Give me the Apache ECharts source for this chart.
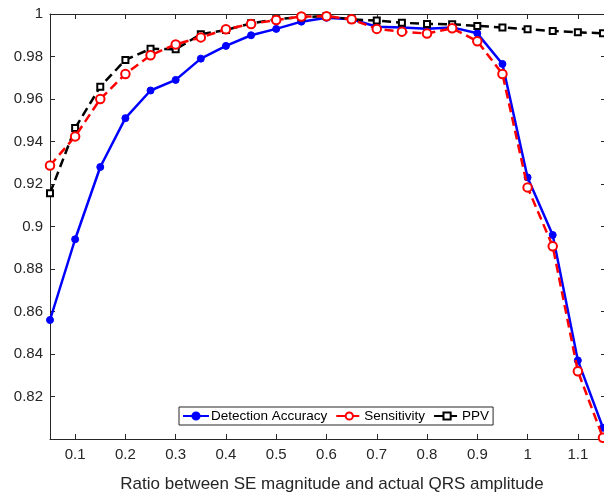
<!DOCTYPE html>
<html>
<head>
<meta charset="utf-8">
<script src="https://cdn.jsdelivr.net/npm/echarts@6/dist/echarts.min.js"></script>
<style>
  html, body { margin: 0; padding: 0; background: #fff; overflow: hidden; }
  #chart { width: 604px; height: 497px; }
</style>
</head>
<body>
<div id="chart"></div>
<script>
// SE magnitude ratio (x) and detection metrics
const ratio = [0.05, 0.1, 0.15, 0.2, 0.25, 0.3, 0.35, 0.4, 0.45, 0.5, 0.55, 0.6,
               0.65, 0.7, 0.75, 0.8, 0.85, 0.9, 0.95, 1.0, 1.05, 1.1, 1.15];

const accuracy = [0.856, 0.894, 0.928, 0.951, 0.964, 0.969, 0.979, 0.985, 0.990, 0.993, 0.9964, 0.9982,
                  0.9975, 0.994, 0.9937, 0.9931, 0.9937, 0.9909, 0.9765, 0.9231, 0.896, 0.837, 0.8053];

const sensitivity = [0.9287, 0.9424, 0.960, 0.9718, 0.9806, 0.9857, 0.989, 0.9928, 0.9953, 0.9972, 0.9988, 0.9990,
                     0.9975, 0.993, 0.9917, 0.9908, 0.9933, 0.9872, 0.9718, 0.9184, 0.8907, 0.8319, 0.8006];

const ppv = [0.9157, 0.9463, 0.9658, 0.9784, 0.9836, 0.9834, 0.9905, 0.9925, 0.9956, 0.9975, 0.9985, 0.9990,
             0.9975, 0.9969, 0.9959, 0.9953, 0.9952, 0.9944, 0.9937, 0.9928, 0.992, 0.9914, 0.9909];

const xTicks = [0.1, 0.2, 0.3, 0.4, 0.5, 0.6, 0.7, 0.8, 0.9, 1.0, 1.1];

const xLabel = 'Ratio between SE magnitude and actual QRS amplitude';
const names = ['Detection Accuracy', 'Sensitivity', 'PPV'];

const FONT = '"Liberation Sans", Arial, Helvetica, sans-serif';
const AXIS_COLOR = '#262626';

const pairs = ys => ratio.map((x, i) => [x, ys[i]]);

const chart = echarts.init(document.getElementById('chart'), null, { renderer: 'canvas' });

const xBase = {
  type: 'value',
  min: 0.05,
  max: 1.156,
  axisLine: { show: true, onZero: false, lineStyle: { color: AXIS_COLOR, width: 1 } },
  axisTick: { show: true, inside: true, length: 5, customValues: xTicks, lineStyle: { color: AXIS_COLOR } },
  splitLine: { show: false }
};

const yBase = {
  type: 'value',
  min: 0.8,
  max: 1,
  interval: 0.02,
  axisLine: { show: true, onZero: false, lineStyle: { color: AXIS_COLOR, width: 1 } },
  axisTick: { show: true, inside: true, length: 5, lineStyle: { color: AXIS_COLOR } },
  splitLine: { show: false }
};

chart.setOption({
  backgroundColor: '#fff',
  animation: false,
  textStyle: { fontFamily: FONT },
  grid: { left: 50, top: 14, width: 556, height: 425, containLabel: false, outerBoundsMode: 'none' },
  xAxis: [
    Object.assign({}, xBase, {
      position: 'bottom',
      name: xLabel,
      nameLocation: 'middle',
      nameGap: 37,
      nameTextStyle: { color: AXIS_COLOR, fontSize: 17, fontFamily: FONT, padding: [0, 0, 0, 8] },
      axisLabel: {
        show: true, customValues: xTicks, margin: 8,
        color: AXIS_COLOR, fontSize: 15, fontFamily: FONT,
        formatter: v => String(+v.toFixed(2))
      }
    }),
    Object.assign({}, xBase, { position: 'top', axisLabel: { show: false } })
  ],
  yAxis: [
    Object.assign({}, yBase, {
      position: 'left',
      axisLabel: {
        show: true, margin: 7,
        color: AXIS_COLOR, fontSize: 15, fontFamily: FONT,
        formatter: v => (Math.abs(v - 0.8) < 1e-9 ? '' : String(+v.toFixed(2)))
      }
    }),
    Object.assign({}, yBase, { position: 'right', axisLabel: { show: false } })
  ],
  legend: {
    data: names,
    left: 179,
    top: 407,
    orient: 'horizontal',
    backgroundColor: '#fff',
    borderColor: AXIS_COLOR,
    borderWidth: 1,
    borderRadius: 0,
    padding: [2, 4, 2, 3],
    itemWidth: 26,
    itemHeight: 9,
    itemGap: 8,
    textStyle: { color: '#000', fontSize: 13.5, fontFamily: FONT, padding: [0, 0, 0, -3] }
  },
  series: [
    {
      name: names[0],
      type: 'line',
      data: pairs(accuracy),
      clip: false,
      z: 2,
      symbol: 'circle',
      symbolSize: 7,
      color: '#0000ff',
      lineStyle: { color: '#0000ff', width: 2.5 },
      itemStyle: { color: '#0000ff', borderColor: '#0000ff', borderWidth: 1 }
    },
    {
      name: names[1],
      type: 'line',
      data: pairs(sensitivity),
      clip: false,
      z: 4,
      symbol: 'emptyCircle',
      symbolSize: 8.5,
      color: '#ff0000',
      lineStyle: { color: '#ff0000', width: 2.5, type: [9, 5] },
      itemStyle: { color: '#ff0000', borderColor: '#ff0000', borderWidth: 2.2 }
    },
    {
      name: names[2],
      type: 'line',
      data: pairs(ppv),
      clip: false,
      z: 3,
      symbol: 'emptyRect',
      symbolSize: 6,
      color: '#000000',
      lineStyle: { color: '#000000', width: 2.5, type: [9, 5] },
      itemStyle: { color: '#000000', borderColor: '#000000', borderWidth: 2.5 }
    }
  ]
});
</script>
</body>
</html>
